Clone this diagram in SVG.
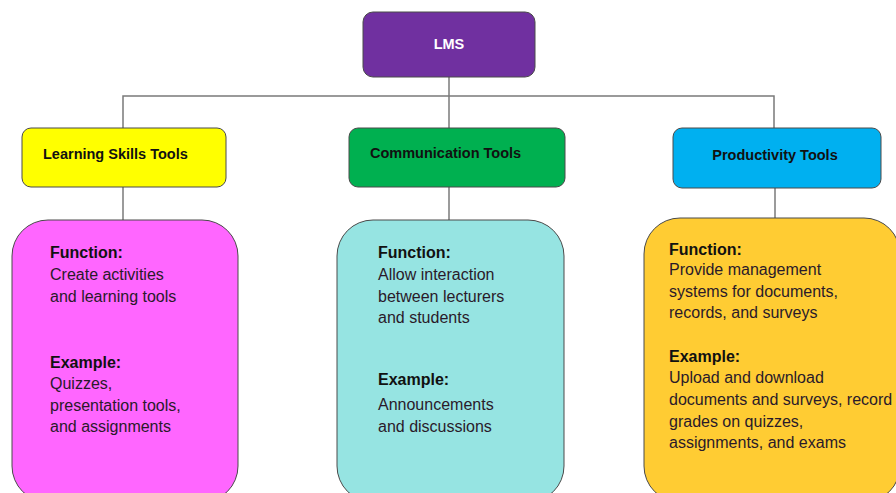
<svg xmlns="http://www.w3.org/2000/svg" width="896" height="493" viewBox="0 0 896 493">
<style>
.title{font-family:"Liberation Sans",Arial,sans-serif;font-weight:bold;font-size:14.5px;fill:#111}
.body{font-family:"Liberation Sans",Arial,sans-serif;font-size:16px;fill:#2a1a2a}
.lbl{font-weight:bold;fill:#111}
.box{stroke:#4a4a4a;stroke-width:1}
.conn{stroke:#7a7a7a;stroke-width:1.5;fill:none}
</style>
<rect width="896" height="493" fill="#ffffff"/>
<g id="connectors">
<path class="conn" d="M449 77 V128"/>
<path class="conn" d="M123 128 V96 H774 V128"/>
<path class="conn" d="M123 187 V220"/>
<path class="conn" d="M449 187 V220"/>
<path class="conn" d="M775 188 V218"/>
</g>
<g id="lms">
<rect class="box" x="363" y="12" width="172" height="65" rx="10" fill="#7030A0"/>
<text x="449" y="49" text-anchor="middle" class="title" style="fill:#ffffff">LMS</text>
</g>
<g id="learning-skills-tools">
<rect class="box" x="22" y="128" width="204" height="59" rx="9" fill="#FFFF00"/>
<text x="43" y="159" class="title">Learning Skills Tools</text>
</g>
<g id="communication-tools">
<rect class="box" x="349" y="128" width="216" height="59" rx="9" fill="#00B050"/>
<text x="370" y="158" class="title">Communication Tools</text>
</g>
<g id="productivity-tools">
<rect class="box" x="673" y="128" width="208" height="60" rx="9" fill="#00B0F0"/>
<text x="775" y="160" text-anchor="middle" class="title">Productivity Tools</text>
</g>
<g id="learning-details">
<rect class="box" x="12" y="220" width="226" height="282" rx="36" fill="#FF66FF"/>
<text class="body" x="50">
<tspan y="258" class="lbl">Function:</tspan>
<tspan x="50" y="280">Create activities</tspan>
<tspan x="50" y="302">and learning tools</tspan>
<tspan x="50" y="368" class="lbl">Example:</tspan>
<tspan x="50" y="389">Quizzes,</tspan>
<tspan x="50" y="411">presentation tools,</tspan>
<tspan x="50" y="432">and assignments</tspan>
</text>
</g>
<g id="communication-details">
<rect class="box" x="337" y="220" width="227" height="282" rx="36" fill="#96E4E2"/>
<text class="body" x="378">
<tspan y="258" class="lbl">Function:</tspan>
<tspan x="378" y="280">Allow interaction</tspan>
<tspan x="378" y="302">between lecturers</tspan>
<tspan x="378" y="323">and students</tspan>
<tspan x="378" y="385" class="lbl">Example:</tspan>
<tspan x="378" y="410">Announcements</tspan>
<tspan x="378" y="432">and discussions</tspan>
</text>
</g>
<g id="productivity-details">
<rect class="box" x="644" y="218" width="256" height="284" rx="36" fill="#FFCC33"/>
<text class="body" x="669">
<tspan y="255" class="lbl">Function:</tspan>
<tspan x="669" y="275">Provide management</tspan>
<tspan x="669" y="297">systems for documents,</tspan>
<tspan x="669" y="318">records, and surveys</tspan>
<tspan x="669" y="362" class="lbl">Example:</tspan>
<tspan x="669" y="383">Upload and download</tspan>
<tspan x="669" y="405">documents and surveys, record</tspan>
<tspan x="669" y="427">grades on quizzes,</tspan>
<tspan x="669" y="448">assignments, and exams</tspan>
</text>
</g>
</svg>
